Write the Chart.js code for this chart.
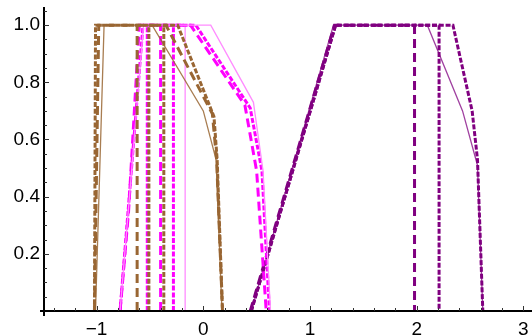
<!DOCTYPE html>
<html><head><meta charset="utf-8">
<script src="https://cdn.jsdelivr.net/npm/chart.js@4/dist/chart.umd.min.js"></script>
<style>html,body{margin:0;padding:0;background:#fff}#wrap{width:532px;height:335px;position:relative}</style>
</head><body><div id="wrap"><canvas id="c"></canvas></div>
<script>
// ---- data ----
const xTicks = [-1, 0, 1, 2, 3];
const yTicks = [0.2, 0.4, 0.6, 0.8, 1.0];

// brown series
const brownThinX = [-1.01, -0.93, -0.48, 0.00, 0.12, 0.175];
const brownThinY = [0, 1, 1, 0.70, 0.53, 0];
const brownDashX = [-1.02, -0.98, -0.35, 0.085, 0.125, 0.18];
const brownDashY = [0, 1, 1, 0.69, 0.53, 0];
const brownDotX = [-1.02, -1.01, -0.24, 0.10, 0.13, 0.18];
const brownDotY = [0, 1, 1, 0.68, 0.53, 0];
const brownVDashX = [-0.62, -0.62];
const brownVDotX = [-0.51, -0.51];
const brownVDot2X = [-0.37, -0.37];

// magenta series
const magThinX = [-0.78, -0.56, 0.07, 0.47, 0.56, 0.63];
const magThinY = [0, 1, 1, 0.73, 0.49, 0];
const magDotX = [-0.78, -0.565, -0.07, 0.44, 0.55, 0.62];
const magDotY = [0, 1, 1, 0.71, 0.49, 0];
const magDashX = [-0.78, -0.70, -0.60, -0.12, 0.39, 0.50, 0.59];
const magDashY = [0, 0.35, 1, 1, 0.72, 0.49, 0];
const magVDot1X = [-0.525, -0.525];
const magVDashX = [-0.40, -0.40];
const magVDot2X = [-0.28, -0.28];
const magVThinX = [-0.17, -0.17];

// purple series
const purThinX = [0.45, 1.22, 2.10, 2.43, 2.57, 2.62];
const purThinY = [0, 1, 1, 0.70, 0.51, 0];
const purDotX = [0.45, 1.24, 2.34, 2.52, 2.57, 2.62];
const purDotY = [0, 1, 1, 0.70, 0.53, 0];
const purDashX = [0.44, 1.23, 1.98, 1.98];
const purDashY = [0, 1, 1, 0];
const purDot2X = [0.45, 1.24, 2.21, 2.21];
const purDot2Y = [0, 1, 1, 0];

const vertY = [0, 1];

// ---- styling helpers ----
const BROWN = '#996633', BROWN_T = 'rgba(153,102,51,0.85)';
const MAG = '#ff00ff', MAG_T = '#ff8cff';
const PUR = '#800080', PUR_T = 'rgba(128,0,128,0.75)';
const DASH = [9, 5], DOT = [5, 1.8];

function ds(xs, ys, color, width, dash) {
  return {
    data: xs.map((x, i) => ({x: x, y: ys[i]})),
    borderColor: color, borderWidth: width, borderDash: dash || [],
    showLine: true, pointRadius: 0, fill: false, tension: 0,
    borderCapStyle: 'butt', borderJoinStyle: 'miter'
  };
}

const datasets = [
  ds(brownThinX, brownThinY, BROWN_T, 1.3),
  ds(brownDashX, brownDashY, BROWN, 3, DASH),
  ds(brownDotX, brownDotY, BROWN, 3, DOT),
  ds(brownVDashX, vertY, BROWN, 3, DASH),
  ds(brownVDotX, vertY, BROWN, 3, DOT),
  ds(brownVDot2X, vertY, BROWN, 3, DOT),
  ds(magThinX, magThinY, MAG_T, 1.3),
  ds(magDotX, magDotY, MAG, 3, DOT),
  ds(magDashX, magDashY, MAG, 3, DASH),
  ds(magVDot1X, vertY, MAG, 3, DOT),
  ds(magVDashX, vertY, MAG, 3, DASH),
  ds(magVDot2X, vertY, MAG, 3, DOT),
  ds(magVThinX, vertY, MAG_T, 1.3),
  ds(purThinX, purThinY, PUR_T, 1.3),
  ds(purDotX, purDotY, PUR, 3, DOT),
  ds(purDashX, purDashY, PUR, 3, DASH),
  ds(purDot2X, purDot2Y, PUR, 3, DOT)
];

// inner tick marks and slightly extended axis lines (Mathematica style)
const innerTicks = {
  id: 'innerTicks',
  afterDraw(chart) {
    const {ctx, chartArea: a, scales: {x, y}} = chart;
    ctx.save();
    ctx.strokeStyle = '#000';
    ctx.lineWidth = 2;
    ctx.beginPath();
    ctx.moveTo(a.left - 4, a.bottom); ctx.lineTo(a.right, a.bottom);
    ctx.moveTo(a.left, a.top); ctx.lineTo(a.left, a.bottom + 5);
    ctx.stroke();
    ctx.strokeStyle = '#333';
    ctx.lineWidth = 1;
    ctx.beginPath();
    for (let i = -7; i <= 15; i++) {
      const v = i * 0.2;
      if (v < x.min || v > x.max) continue;
      const px = Math.round(x.getPixelForValue(v)) + 0.5;
      const major = i % 5 === 0;
      ctx.moveTo(px, a.bottom);
      ctx.lineTo(px, a.bottom - (major ? 5 : 3));
    }
    for (let i = 1; i <= 21; i++) {
      const v = i * 0.05;
      if (v > y.max) continue;
      const py = Math.round(y.getPixelForValue(v)) + 0.5;
      const major = i % 4 === 0;
      ctx.moveTo(a.left, py);
      ctx.lineTo(a.left + (major ? 5 : 3), py);
    }
    ctx.stroke();
    ctx.restore();
  }
};

new Chart(document.getElementById('c'), {
  type: 'scatter',
  data: {datasets},
  plugins: [innerTicks],
  options: {
    responsive: true, maintainAspectRatio: false, animation: false,
    layout: {padding: {top: 8, right: 0, left: 0, bottom: 0}},
    plugins: {legend: {display: false}, tooltip: {enabled: false}},
    scales: {
      x: {
        type: 'linear', min: -1.493, max: 3.081,
        afterBuildTicks: s => { s.ticks = xTicks.map(v => ({value: v})); },
        afterFit: s => { s.height = 24; s.paddingLeft = 0; s.paddingRight = 0; },
        grid: {display: true, drawOnChartArea: false, drawTicks: false},
        border: {display: true, color: '#000', width: 2},
        ticks: {
          padding: 7, color: '#000', maxRotation: 0, autoSkip: false,
          font: {family: 'Liberation Sans', size: 19},
          callback: v => (v < 0 ? '\u2212' + Math.abs(v) : String(v))
        }
      },
      y: {
        type: 'linear', min: 0, max: 1.06,
        afterBuildTicks: s => { s.ticks = yTicks.map(v => ({value: v})); },
        afterFit: s => { s.width = 44; s.paddingTop = 0; s.paddingBottom = 0; },
        grid: {display: true, drawOnChartArea: false, drawTicks: false},
        border: {display: true, color: '#000', width: 2},
        ticks: {
          padding: 4, color: '#000', autoSkip: false,
          font: {family: 'Liberation Sans', size: 19},
          callback: v => v.toFixed(1)
        }
      }
    }
  }
});
</script>
</body></html>
